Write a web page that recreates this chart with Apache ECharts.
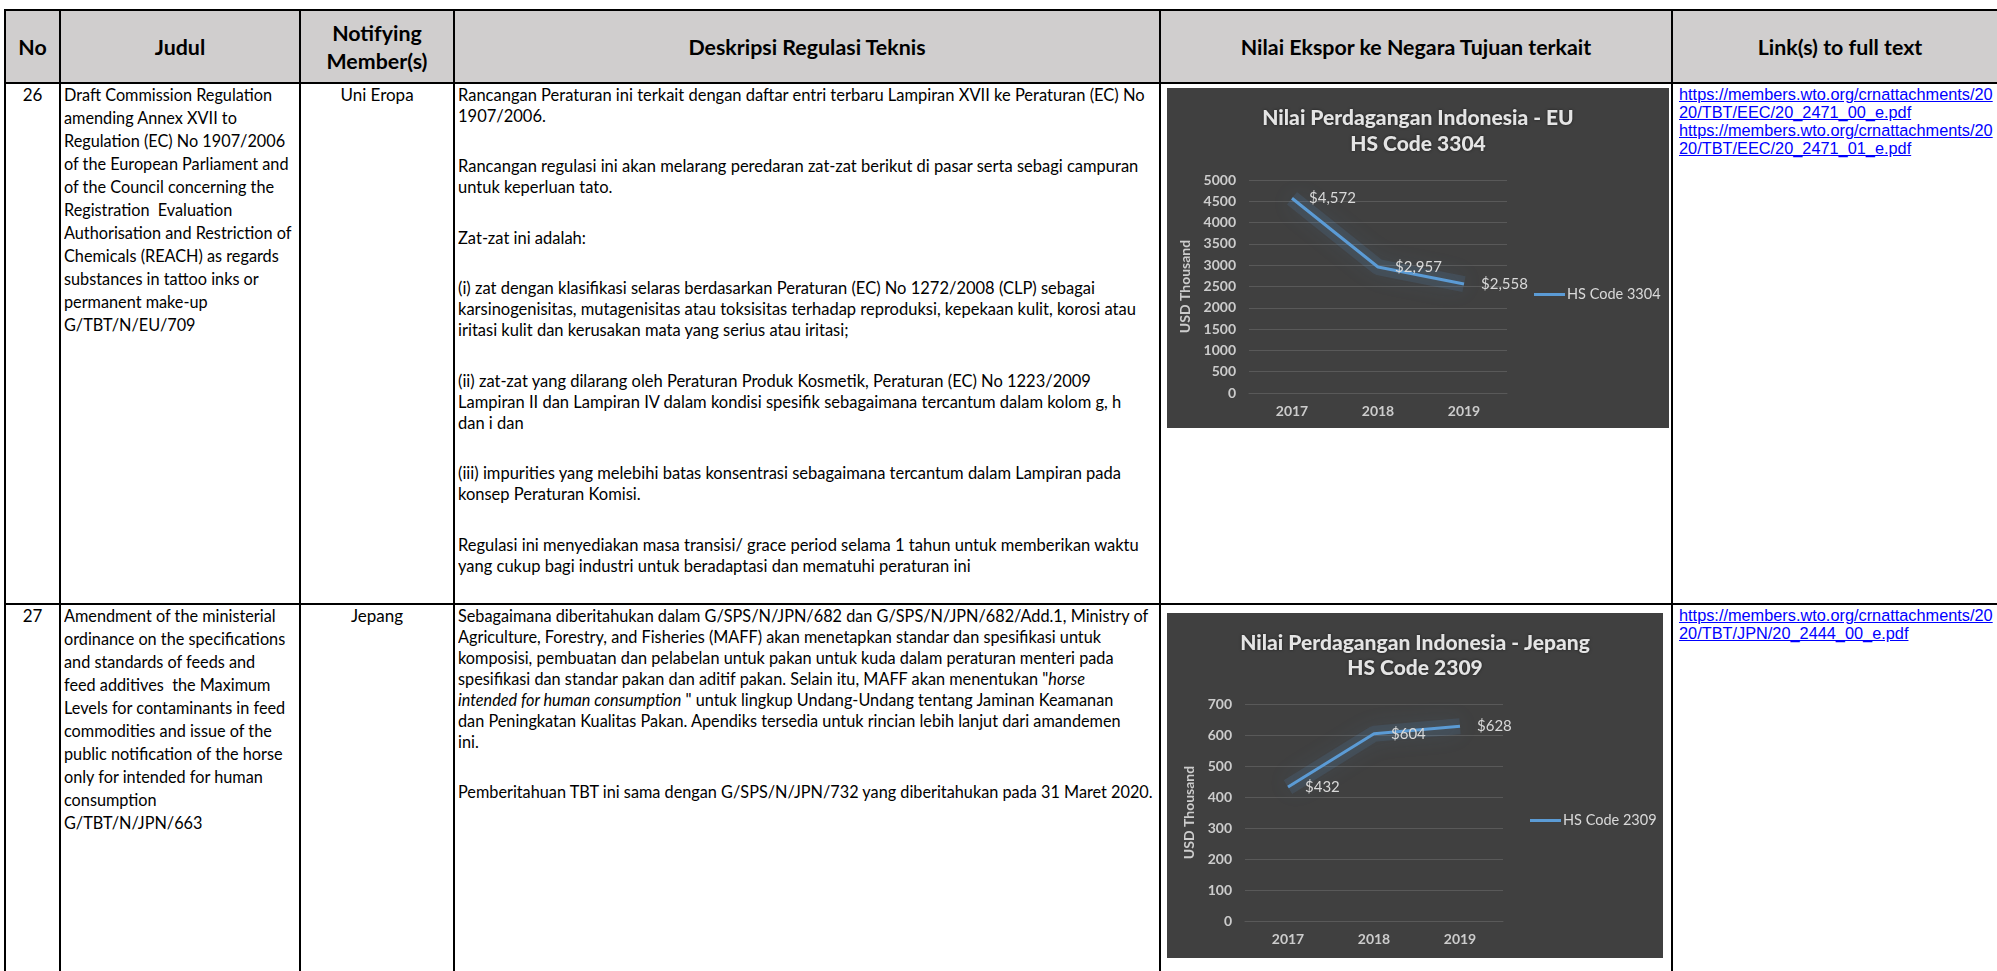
<!DOCTYPE html>
<html lang="id">
<head>
<meta charset="UTF-8">
<title>Notifikasi TBT - Nilai Ekspor</title>
<script src="https://cdn.jsdelivr.net/npm/echarts@6/dist/echarts.min.js"></script>
<style>
	body { margin: 0; background: #fff; overflow: hidden; }
	#page { position: relative; width: 1997px; height: 971px; overflow: hidden; font-family: Lato, "Open Sans", sans-serif; color: #000; }
	#page a { color: #0000ff; text-decoration: underline; }
</style>
</head>
<body>
<div id="page"></div>
<script type="text/javascript">
	// data grafik
	var years = ['2017', '2018', '2019'];
	var euValues = [4572, 2957, 2558];
	var jpValues = [432, 604, 628];
	var euTitle = 'Nilai Perdagangan Indonesia - EU\nHS Code 3304';
	var jpTitle = 'Nilai Perdagangan Indonesia - Jepang\nHS Code 2309';
	var euSeries = 'HS Code 3304';
	var jpSeries = 'HS Code 2309';

	// isi tabel
	var headers = ['No', 'Judul', 'Notifying<br>Member(s)', 'Deskripsi Regulasi Teknis', 'Nilai Ekspor ke Negara Tujuan terkait', 'Link(s) to full text'];
	var nomor = ['26', '27'];
	var negara = ['Uni Eropa', 'Jepang'];
	var judul = [
		['Draft Commission Regulation', 'amending Annex XVII to', 'Regulation (EC) No 1907/2006', 'of the European Parliament and',
		 'of the Council concerning the', 'Registration&nbsp; Evaluation', 'Authorisation and Restriction of', 'Chemicals (REACH) as regards',
		 'substances in tattoo inks or', 'permanent make-up', 'G/TBT/N/EU/709'],
		['Amendment of the ministerial', 'ordinance on the specifications', 'and standards of feeds and', 'feed additives&nbsp; the Maximum',
		 'Levels for contaminants in feed', 'commodities and issue of the', 'public notification of the horse', 'only for intended for human',
		 'consumption', 'G/TBT/N/JPN/663']
	];
	var deskripsi = [
		[
			['Rancangan Peraturan ini terkait dengan daftar entri terbaru Lampiran XVII ke Peraturan (EC) No', '1907/2006.'],
			['Rancangan regulasi ini akan melarang peredaran zat-zat berikut di pasar serta sebagi campuran', 'untuk keperluan tato.'],
			['Zat-zat ini adalah:'],
			['(i) zat dengan klasifikasi selaras berdasarkan Peraturan (EC) No 1272/2008 (CLP) sebagai',
			 'karsinogenisitas, mutagenisitas atau toksisitas terhadap reproduksi, kepekaan kulit, korosi atau',
			 'iritasi kulit dan kerusakan mata yang serius atau iritasi;'],
			['(ii) zat-zat yang dilarang oleh Peraturan Produk Kosmetik, Peraturan (EC) No 1223/2009',
			 'Lampiran II dan Lampiran IV dalam kondisi spesifik sebagaimana tercantum dalam kolom g, h', 'dan i dan'],
			['(iii) impurities yang melebihi batas konsentrasi sebagaimana tercantum dalam Lampiran pada', 'konsep Peraturan Komisi.'],
			['Regulasi ini menyediakan masa transisi/ grace period selama 1 tahun untuk memberikan waktu',
			 'yang cukup bagi industri untuk beradaptasi dan mematuhi peraturan ini']
		],
		[
			['Sebagaimana diberitahukan dalam G/SPS/N/JPN/682 dan G/SPS/N/JPN/682/Add.1, Ministry of',
			 'Agriculture, Forestry, and Fisheries (MAFF) akan menetapkan standar dan spesifikasi untuk',
			 'komposisi, pembuatan dan pelabelan untuk pakan untuk kuda dalam peraturan menteri pada',
			 'spesifikasi dan standar pakan dan aditif pakan. Selain itu, MAFF akan menentukan "<i>horse</i>',
			 '<i>intended for human consumption</i> " untuk lingkup Undang-Undang tentang Jaminan Keamanan',
			 'dan Peningkatan Kualitas Pakan. Apendiks tersedia untuk rincian lebih lanjut dari amandemen', 'ini.'],
			['Pemberitahuan TBT ini sama dengan G/SPS/N/JPN/732 yang diberitahukan pada 31 Maret 2020.']
		]
	];
	var tautan = [
		['https://members.wto.org/crnattachments/20', '20/TBT/EEC/20_2471_00_e.pdf', 'https://members.wto.org/crnattachments/20', '20/TBT/EEC/20_2471_01_e.pdf'],
		['https://members.wto.org/crnattachments/20', '20/TBT/JPN/20_2444_00_e.pdf']
	];

	// tata letak
	var colX = [5, 60, 300, 454, 1160, 1672, 2008];
	var rowY = [10, 83, 604, 1100];
	var SANS = 'Lato, "Open Sans", sans-serif';
	var ARIAL = '"Liberation Sans", Arial, sans-serif';
	var BODY = 17; // ukuran huruf isi tabel

	var cv = document.createElement('canvas').getContext('2d');
	function textWidth(text, weight, size, family) {
		cv.font = weight + ' ' + size + 'px ' + family;
		return cv.measureText(text.replace(/<[^>]+>/g, '').replace(/&nbsp;/g, ' ')).width;
	}

	var page = document.getElementById('page');
	function addDiv(l, t, w, h, css, html) {
		var d = document.createElement('div');
		d.style.cssText = 'position:absolute;left:' + l + 'px;top:' + t + 'px;' +
			(w != null ? 'width:' + w + 'px;' : '') + (h != null ? 'height:' + h + 'px;' : '') + css;
		if (html != null) d.innerHTML = html;
		page.appendChild(d);
		return d;
	}

	var headSize = 100 * 238 / textWidth('Deskripsi Regulasi Teknis', 'bold', 100, SANS);
	var judulScale = 208 / textWidth('Draft Commission Regulation', 'normal', BODY, SANS);
	// lebar baris acuan deskripsi per baris tabel
	var deskScale = [
		687 / textWidth(deskripsi[0][0][0], 'normal', BODY, SANS),
		696 / textWidth(deskripsi[1][1][0], 'normal', BODY, SANS)
	];
	var linkSize = 100 * 314 / textWidth(tautan[0][0], 'normal', 100, ARIAL);

	// header
	addDiv(colX[0], rowY[0], colX[6] - colX[0], rowY[1] - rowY[0], 'background:#d0cece;');
	headers.forEach(function (h, i) {
		addDiv(colX[i], rowY[0], colX[i + 1] - colX[i], rowY[1] - rowY[0],
			'display:flex;align-items:center;justify-content:center;text-align:center;font-weight:bold;font-size:' + headSize + 'px;line-height:28px;', h);
	});

	// baris
	nomor.forEach(function (no, r) {
		var c = rowY[r + 1] + 11;
		var sq = ';transform-origin:0 0;white-space:nowrap;font-size:' + BODY + 'px;';
		addDiv(colX[0], c - 11.5, colX[1] - colX[0], null, 'text-align:center;font-size:' + BODY + 'px;line-height:23px;', no);
		addDiv(colX[1] + 4, c - 11.5, null, null, 'line-height:23px;transform:scaleX(' + judulScale + ')' + sq, judul[r].join('<br>'));
		addDiv(colX[2], c - 11.5, colX[3] - colX[2], null, 'text-align:center;font-size:' + BODY + 'px;line-height:23px;', negara[r]);
		var paras = deskripsi[r].map(function (p, k) {
			return '<div style="margin-top:' + (k ? 29.5 : 0) + 'px">' + p.join('<br>') + '</div>';
		}).join('');
		addDiv(colX[3] + 4, c - 10.5, null, null, 'line-height:21px;transform:scaleX(' + deskScale[r] + ')' + sq, paras);
		addDiv(colX[5] + 7, c - 9, null, null, 'white-space:nowrap;font-family:' + ARIAL.replace(/"/g, "'") + ';font-size:' + linkSize + 'px;line-height:18px;',
			tautan[r].map(function (t) { return '<a>' + t + '</a>'; }).join('<br>'));
	});

	// garis tabel
	colX.forEach(function (x) { addDiv(x - 1, rowY[0] - 1, 2, 1200, 'background:#000;'); });
	rowY.slice(0, 3).forEach(function (y) { addDiv(colX[0] - 1, y - 1, colX[6] - colX[0] + 2, 2, 'background:#000;'); });

	// grafik
	var TXT = '#d9d9d9', AXT = '#cccccc', GRID = '#595959', BLUE = '#5b9bd5';

	function lineOption(cfg) {
		return {
			animation: false,
			backgroundColor: '#404040',
			textStyle: { fontFamily: SANS },
			title: {
				text: cfg.title, left: 'center', top: cfg.titleTop, padding: 0,
				textStyle: {
					color: '#e4e4e4', fontFamily: SANS, fontWeight: 900, fontSize: 21, lineHeight: cfg.titleLine,
					textShadowColor: 'rgba(0,0,0,0.55)', textShadowBlur: 3
				}
			},
			legend: {
				data: [cfg.seriesName],
				left: cfg.legendLeft, top: cfg.legendTop, padding: 0, icon: 'rect', itemWidth: 31, itemHeight: 3,
				textStyle: { color: TXT, fontFamily: SANS, fontSize: 14.5, padding: [0, 0, 0, -3] }
			},
			grid: cfg.grid,
			xAxis: {
				type: 'category', data: years,
				axisTick: { show: false },
				axisLine: { lineStyle: { color: GRID } },
				axisLabel: { color: AXT, fontFamily: SANS, fontWeight: 'bold', fontSize: 14, margin: 11 }
			},
			yAxis: {
				type: 'value', min: 0, max: cfg.max, interval: cfg.interval,
				name: 'USD Thousand', nameLocation: 'middle', nameRotate: 90, nameGap: cfg.nameGap,
				nameTextStyle: { color: AXT, fontFamily: SANS, fontWeight: 'bold', fontSize: 14 },
				axisLabel: { color: AXT, fontFamily: SANS, fontWeight: 'bold', fontSize: 14, margin: 13, formatter: function (v) { return String(v); } },
				splitLine: { lineStyle: { color: GRID, width: 1 } }
			},
			series: [{
				// lapisan pendar di belakang garis
				type: 'line', name: 'glow', data: cfg.values, silent: true,
				symbol: 'none', z: 1,
				lineStyle: { color: 'rgba(91,155,213,0.13)', width: 16, shadowColor: 'rgba(91,155,213,0.7)', shadowBlur: 22 }
			}, {
				type: 'line', name: cfg.seriesName, data: cfg.values, z: 3,
				symbol: 'circle', symbolSize: 0,
				itemStyle: { color: BLUE },
				lineStyle: { color: BLUE, width: 3 },
				label: {
					show: true, position: 'right', distance: 17, color: TXT, fontFamily: SANS, fontSize: 15,
					formatter: function (p) { return '$' + p.value.toLocaleString('en-US'); }
				}
			}]
		};
	}

	var euBox = addDiv(1167, 88, 502, 340, '');
	var jpBox = addDiv(1167, 613, 496, 345, '');
	var euChart = echarts.init(euBox);
	euChart.setOption(lineOption({
		title: euTitle, titleTop: 17, titleLine: 26, seriesName: euSeries, values: euValues,
		max: 5000, interval: 500, nameGap: 50,
		grid: { left: 82, top: 92, width: 258, height: 213 },
		legendLeft: 367, legendTop: 199
	}));
	var jpChart = echarts.init(jpBox);
	jpChart.setOption(lineOption({
		title: jpTitle, titleTop: 17.5, titleLine: 25, seriesName: jpSeries, values: jpValues,
		max: 700, interval: 100, nameGap: 42,
		grid: { left: 78, top: 91, width: 258, height: 217 },
		legendLeft: 363, legendTop: 200
	}));
</script>
</body>
</html>
